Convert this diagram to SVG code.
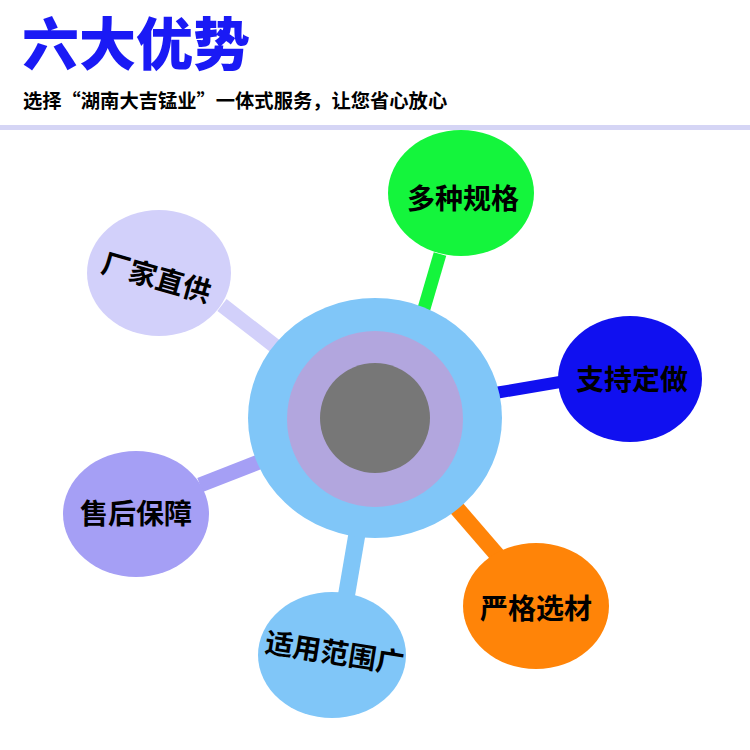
<svg xmlns="http://www.w3.org/2000/svg" width="750" height="750" viewBox="0 0 750 750">
<style>
.t{font-family:"Noto Sans CJK SC","Noto Sans",sans-serif;fill:#000;font-weight:700;font-size:28px;text-anchor:middle;dominant-baseline:central}
.conn line{stroke-linecap:butt}
</style>
<rect width="750" height="750" fill="#fff"/>
<g id="header">
<text x="22" y="65" font-family="Noto Sans CJK SC, sans-serif" font-size="57" font-weight="900" fill="#1a1af5">六大优势</text>
<text x="23" y="108" font-family="Noto Sans CJK SC, sans-serif" font-size="19.3" font-weight="700" fill="#000">选择“湖南大吉锰业”一体式服务，让您省心放心</text>
<rect x="0" y="125" width="750" height="5" fill="#d5d5f5"/>
</g>
<g id="connectors" class="conn">
<line x1="440" y1="254" x2="423" y2="312" stroke="#14f53c" stroke-width="13"/>
<line x1="495" y1="393" x2="560" y2="382" stroke="#1010f0" stroke-width="12"/>
<line x1="222" y1="305" x2="280" y2="350" stroke="#d2d0fa" stroke-width="15"/>
<line x1="200" y1="485" x2="264" y2="460" stroke="#a59ff5" stroke-width="15"/>
<line x1="358" y1="528" x2="346" y2="598" stroke="#80c6f8" stroke-width="17"/>
<line x1="454" y1="505" x2="498" y2="556" stroke="#ff8408" stroke-width="16"/>
</g>
<g id="hub">
<ellipse cx="375" cy="418" rx="127" ry="120" fill="#80c6f8"/>
<circle cx="375" cy="419" r="88" fill="#b2a6de"/>
<circle cx="375" cy="418" r="55" fill="#777777"/>
</g>
<g id="node-guige">
<ellipse cx="461" cy="193" rx="73" ry="63" fill="#14f53c"/>
<text class="t" x="463" y="197">多种规格</text>
</g>
<g id="node-dingzuo">
<ellipse cx="630" cy="379" rx="72" ry="63" fill="#1010f0"/>
<text class="t" x="632" y="378">支持定做</text>
</g>
<g id="node-changjia">
<ellipse cx="159" cy="273" rx="72" ry="63" fill="#d2d0fa"/>
<text class="t" x="157" y="276" transform="rotate(16 157 276)">厂家直供</text>
</g>
<g id="node-shouhou">
<ellipse cx="136" cy="514" rx="73" ry="63" fill="#a59ff5"/>
<text class="t" x="136" y="512">售后保障</text>
</g>
<g id="node-fanwei">
<ellipse cx="332" cy="655" rx="74" ry="63" fill="#80c6f8"/>
<text class="t" x="335" y="651" transform="rotate(9 335 651)">适用范围广</text>
</g>
<g id="node-xuancai">
<ellipse cx="536" cy="606" rx="73" ry="63" fill="#ff8408"/>
<text class="t" x="536" y="607">严格选材</text>
</g>
</svg>
